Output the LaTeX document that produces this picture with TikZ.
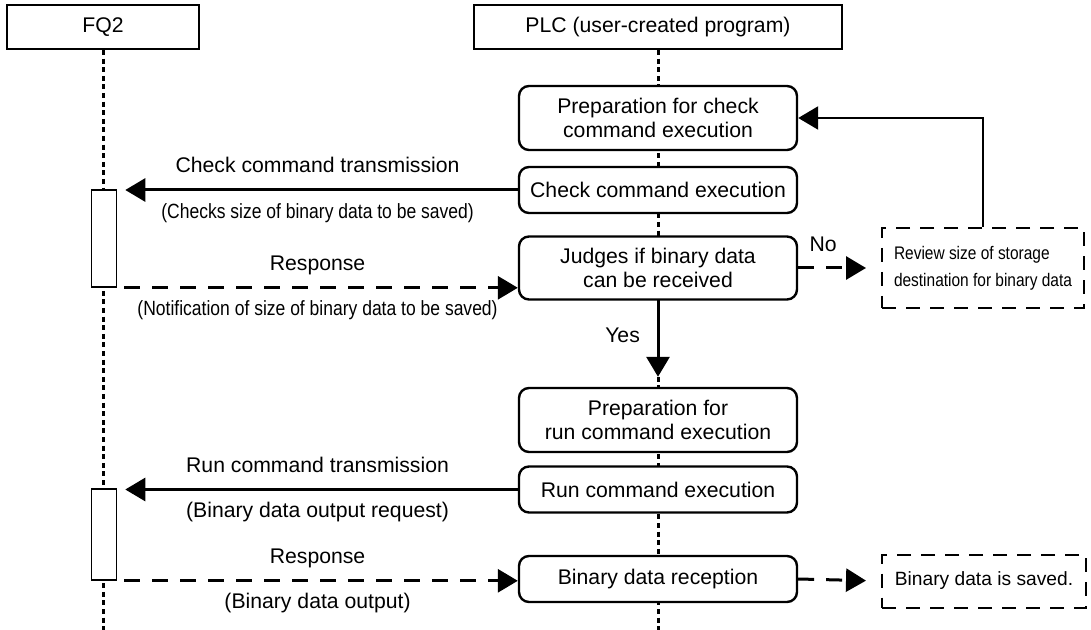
\documentclass[tikz,border=0pt]{standalone}
\usepackage{fontspec}
\setmainfont{Liberation Sans}
\newfontfamily\narrowsans[FakeStretch=0.85]{Liberation Sans}
\usetikzlibrary{arrows.meta}

\begin{document}
\begin{tikzpicture}[x=0.5pt,y=-0.5pt,
		font=\fontsize{10.6}{11.7}\selectfont,
		headbox/.style={draw,line width=1pt,minimum width=#1,minimum height=22pt,inner sep=0pt},
		procbox/.style={draw,line width=1.2pt,rounded corners=5pt,fill=white,minimum width=139pt,minimum height=23pt,align=center,inner sep=2pt},
		notebox/.style={draw,line width=1pt,dash pattern=on 7pt off 5pt,fill=white,align=left,inner sep=2pt},
		actbox/.style={draw,line width=0.8pt,fill=white,minimum width=12.5pt,inner sep=0pt},
		lifeline/.style={line width=1.5pt,dash pattern=on 2.5pt off 1.8pt},
		msg/.style={line width=1.5pt,-{Triangle[length=10pt,width=11.5pt]}},
		reply/.style={msg,dash pattern=on 8pt off 6pt},
		lbl/.style={text height=8pt,text depth=2.5pt},
		sublbl/.style={lbl,font=\narrowsans\fontsize{10.3}{12}\selectfont}]
	\useasboundingbox (0,0) rectangle (1091,630);
	\coordinate (bottom) at (0,630);
	% lanes
	\node[headbox=96pt] (fq2) at (103,27) {FQ2};
	\node[headbox=184pt] (plc) at (658,27) {PLC (user-created program)};
	\draw[lifeline] (fq2.south) -- (fq2.south |- bottom);
	\draw[lifeline] (plc.south) -- (plc.south |- bottom);
	% PLC steps
	\node[procbox,minimum height=32pt] (prepchk) at (658,118) {Preparation for check\\command execution};
	\node[procbox] (chkexec) at (658,190) {Check command execution};
	\node[procbox,minimum height=31.5pt] (judge) at (658,268) {Judges if binary data\\can be received};
	\node[procbox,minimum height=32pt] (preprun) at (658,420) {Preparation for\\run command execution};
	\node[procbox] (runexec) at (658,489.5) {Run command execution};
	\node[procbox] (recv) at (658,579) {Binary data reception};
	\node[notebox,minimum width=101pt,minimum height=40pt,font=\narrowsans\fontsize{9.1}{13.5}\selectfont] (review) at (983,268) {Review size of storage\\destination for binary data};
	\node[notebox,minimum width=102pt,minimum height=26.5pt,font=\fontsize{9.6}{11}\selectfont] (saved) at (984,581) {Binary data is saved.};
	% FQ2 activity
	\node[actbox,minimum height=48.5pt] (act1) at (104,238.5) {};
	\node[actbox,minimum height=45.5pt] (act2) at (104,534.5) {};
	% messages
	\draw[msg,shorten >=4pt] (chkexec.west) -- (chkexec.west -| act1.east)
		node[midway,above=2pt,lbl] {Check command transmission}
		node[midway,below=2pt,sublbl] {(Checks size of binary data to be saved)};
	\draw[reply,shorten <=3.5pt] (act1.south east) -- (act1.south east -| judge.west)
		node[midway,above=2pt,lbl] {Response}
		node[midway,below=2pt,sublbl] {(Notification of size of binary data to be saved)};
	\draw[msg,shorten >=5pt] (judge) -- (preprun) node[pos=0.4,left=5pt] {Yes};
	\draw[reply,shorten >=7.5pt] (judge.east) -- (review.west) node[pos=0.3,above=4pt] {No};
	\draw[msg,line width=1.2pt] (review.north) |- (prepchk.east);
	\draw[msg,shorten >=4pt] (runexec.west) -- (runexec.west -| act2.east)
		node[midway,above=2pt,lbl] {Run command transmission}
		node[midway,below=2pt,lbl] {(Binary data output request)};
	\draw[reply,shorten <=3.5pt] (act2.south east) -- (act2.south east -| recv.west)
		node[midway,above=2pt,lbl] {Response}
		node[midway,below=2pt,lbl] {(Binary data output)};
	\draw[reply,shorten >=7.5pt] (recv.east) -- (saved.west);
\end{tikzpicture}
\end{document}
